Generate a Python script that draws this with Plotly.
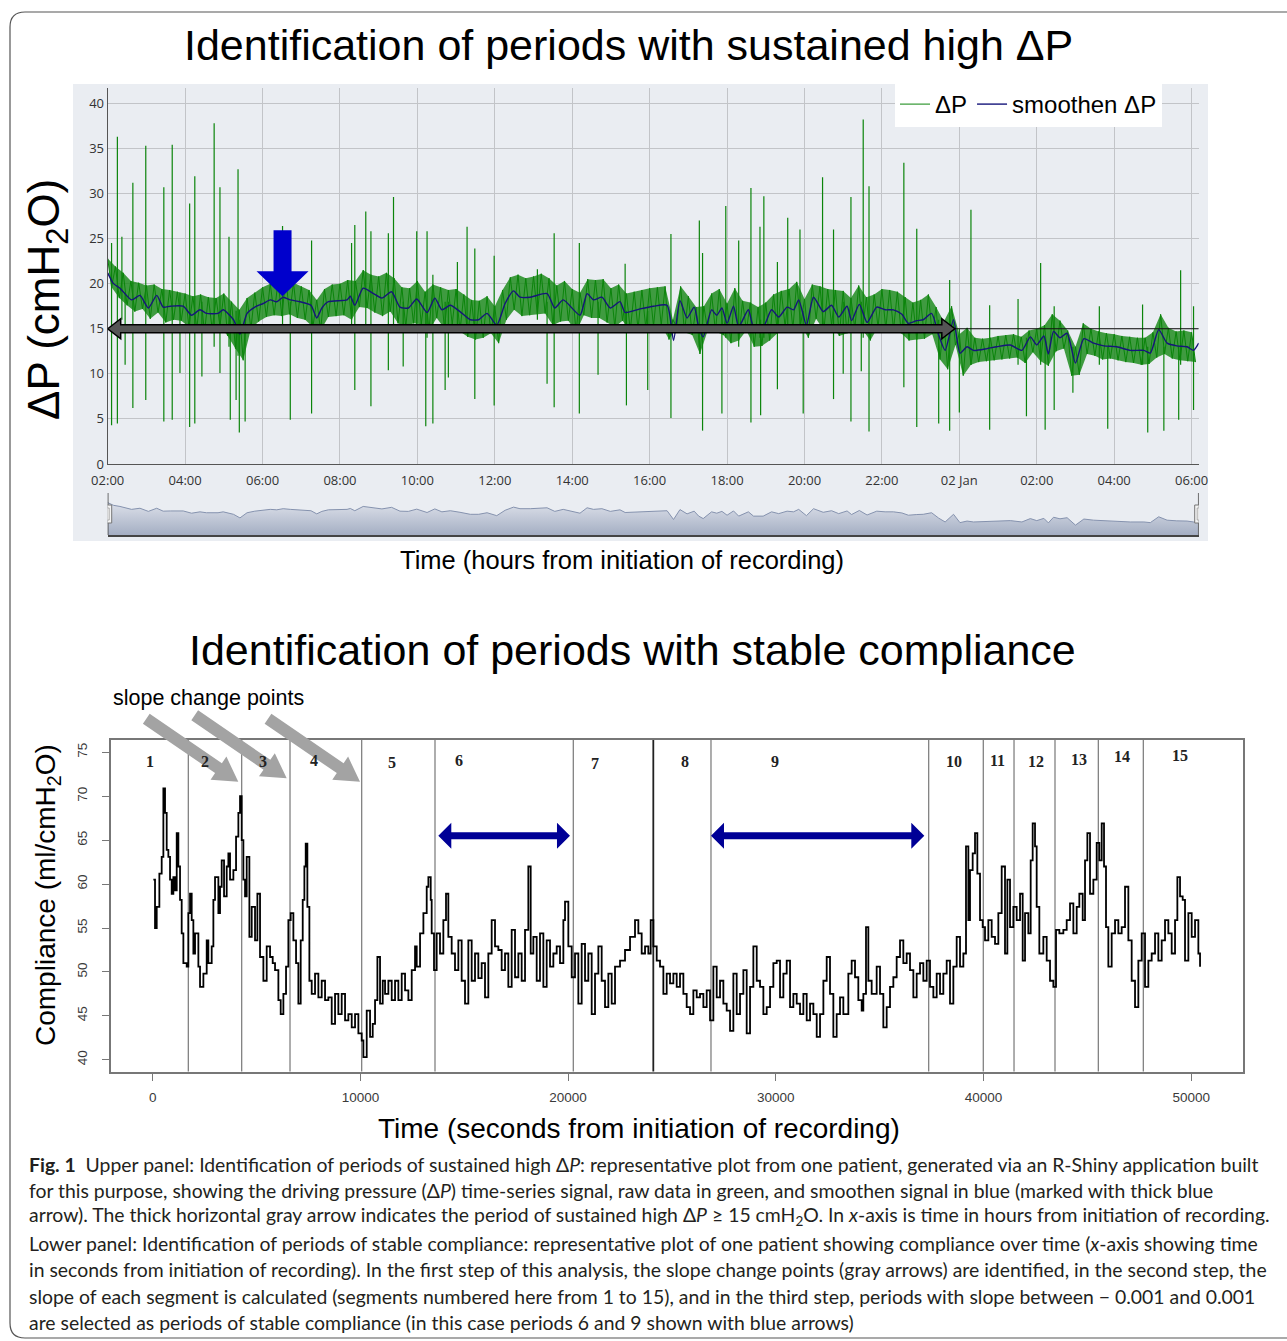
import numpy as np
import pandas as pd
import plotly.graph_objects as go

W, H = 1287, 1341

# ------------------------------------------------------------------ upper panel data
rec_start = "2020-01-01 02:00:00"
band_step_min = 6          # raw ΔP band sampled every 6 minutes from 02:00
dp_band = [
    22.8, 19.6, 21.9, 18.4, 21.2, 17.6, 20.3, 16.9, 20.1, 17.2,
    19.8, 16.1, 19.9, 16.8, 19.4, 15.7, 19.3, 16.0, 19.1, 15.9,
    18.9, 15.2, 18.6, 15.0, 18.8, 14.6, 18.5, 14.9, 18.4, 15.3,
    18.9, 14.2, 18.0, 12.8, 17.1, 11.5, 18.4, 15.0, 19.0, 15.8,
    19.6, 16.3, 20.0, 16.5, 20.3, 16.4, 20.6, 16.6, 20.1, 16.2,
    19.7, 16.0, 19.3, 15.2, 18.2, 14.8, 19.4, 16.3, 19.9, 16.4,
    20.0, 16.5, 20.4, 16.0, 20.3, 17.4, 21.5, 17.3, 21.0, 16.8,
    20.8, 16.4, 21.2, 16.9, 20.6, 15.6, 19.6, 15.2, 19.5, 15.6,
    20.3, 15.5, 19.1, 14.8, 19.9, 16.2, 19.6, 15.0, 19.3, 15.5,
    19.4, 14.7, 18.8, 14.1, 18.2, 13.8, 18.1, 14.0, 18.6, 14.5,
    17.5, 13.4, 19.3, 16.0, 20.7, 17.1, 21.0, 16.4, 20.6, 16.5,
    20.8, 16.6, 21.1, 16.7, 20.6, 15.4, 19.8, 15.8, 20.3, 15.9,
    19.4, 14.6, 19.0, 16.5, 20.5, 16.2, 20.4, 16.2, 20.5, 15.7,
    19.5, 15.2, 19.9, 15.9, 18.9, 14.8, 19.1, 15.0, 19.3, 15.1,
    19.5, 15.3, 19.6, 15.4, 19.7, 13.8, 16.0, 15.2, 19.7, 14.6,
    18.6, 14.3, 17.4, 12.2, 17.5, 14.8, 18.9, 14.7, 19.4, 14.3,
    17.8, 13.4, 19.5, 13.7, 18.1, 14.8, 17.9, 13.0, 17.4, 13.1,
    17.9, 13.7, 18.8, 14.5, 19.2, 15.2, 19.4, 15.0, 20.2, 15.4,
    18.3, 14.0, 19.9, 16.1, 19.7, 14.8, 19.4, 15.4, 19.3, 14.2,
    19.2, 14.5, 18.4, 15.0, 19.8, 14.9, 18.5, 13.7, 18.8, 15.2,
    19.4, 15.0, 19.3, 14.9, 19.1, 14.5, 18.5, 13.7, 17.9, 13.8,
    18.2, 13.9, 18.8, 14.4, 17.4, 11.6, 15.8, 10.5, 17.5, 13.2,
    14.4, 9.8, 15.1, 11.0, 14.0, 11.3, 13.9, 11.4, 14.0, 11.5,
    14.2, 11.6, 14.3, 11.7, 14.4, 11.8, 14.1, 11.2, 14.8, 12.4,
    15.0, 11.4, 15.4, 10.9, 16.6, 12.5, 15.9, 12.8, 14.8, 9.8,
    13.0, 9.9, 15.6, 12.2, 15.0, 12.0, 14.7, 11.6, 14.5, 11.7,
    14.4, 11.5, 14.2, 11.3, 14.1, 11.2, 14.0, 11.0, 14.0, 11.1,
    14.6, 11.8, 16.6, 12.2, 15.1, 11.7, 14.7, 11.5, 14.8, 11.4,
    14.6, 11.3,
]
# raw ΔP spikes: (minutes from 02:00, lowest value, highest value)
dp_spikes = [
    (6, 4.3, 24.5), (15, 4.5, 36.3), (22, 16, 25.2), (27, 11.0, 19), (39, 6.2, 31.2),
    (59, 7.1, 35.3), (87, 4.7, 30.7), (100, 4.9, 35.4), (112, 10.1, 19), (127, 4.1, 28.9),
    (135, 4.5, 31.9), (146, 9.7, 18), (165, 13, 37.8), (174, 10.1, 30.7), (188, 13, 25.2),
    (190, 4.9, 17), (199, 7.1, 17), (202, 12, 32.7), (204, 3.5, 16), (213, 4.7, 16),
    (271, 15, 26.4), (283, 4.9, 18), (316, 5.6, 24.8), (378, 15, 24.5), (383, 8.2, 26.5),
    (400, 15, 28.0), (408, 6.4, 25.8), (435, 10.4, 25.6), (443, 15, 29.6), (458, 10.8, 18),
    (479, 15, 25.8), (493, 4.2, 17), (495, 14, 25.8), (504, 4.5, 21.0), (523, 8.2, 18),
    (528, 9.6, 18), (542, 15, 22.4), (557, 15, 26.3), (569, 7.2, 23.9), (599, 6.5, 23.1),
    (666, 16, 21.6), (681, 8.9, 18), (692, 6.3, 25.6), (731, 5.6, 24.5), (760, 9.9, 18),
    (802, 15, 22.2), (804, 6.5, 17), (837, 8.2, 17), (873, 5.1, 25.5), (917, 13, 27.0),
    (922, 3.7, 23.4), (952, 5.6, 17), (958, 14, 28.6), (978, 13, 24.8), (997, 4.6, 30.6),
    (1011, 14, 26.3), (1012, 5.4, 16), (1017, 14, 29.7), (1038, 8.3, 22.4), (1054, 15, 27.3),
    (1073, 15, 26.0), (1078, 5.6, 17), (1108, 15, 31.8), (1125, 7.2, 26.0), (1140, 10.0, 18),
    (1152, 4.7, 29.6), (1168, 10.3, 18), (1171, 14, 38.2), (1180, 3.6, 30.8), (1234, 8.5, 33.4),
    (1254, 4.1, 26.1), (1288, 4.5, 16), (1305, 3.7, 20.4), (1320, 5.7, 15), (1338, 11, 28.2),
    (1367, 3.8, 17.6), (1411, 11, 18.3), (1424, 5.3, 14), (1446, 11, 22.3), (1453, 3.8, 14),
    (1467, 6.0, 17.5), (1496, 7.9, 13), (1537, 11, 17.5), (1550, 3.9, 13), (1604, 11, 17.7),
    (1612, 3.5, 13), (1637, 3.7, 13), (1660, 4.9, 13), (1663, 11, 21.5), (1683, 6.0, 17.5),
]
smooth_min = [
    0, 9, 19, 37, 50, 63, 76, 86, 97, 117, 130, 143, 153, 171, 179, 195, 205, 216, 228, 241,
    252, 262, 272, 283, 298, 315, 324, 332, 342, 371, 376, 383, 396, 412, 425, 440, 453, 466, 479, 495,
    507, 518, 531, 546, 562, 575, 588, 603, 616, 629, 639, 655, 681, 693, 706, 732, 743, 753, 766, 779,
    794, 802, 825, 846, 867, 877, 887, 898, 909, 916, 923, 936, 944, 952, 960, 970, 978, 993, 1001, 1016,
    1029, 1040, 1053, 1063, 1071, 1083, 1094, 1109, 1122, 1133, 1146, 1153, 1165, 1177, 1192, 1205, 1218, 1231, 1241, 1254,
    1264, 1277, 1288, 1298, 1311, 1321, 1332, 1342, 1363, 1378, 1399, 1417, 1430, 1440, 1451, 1458, 1466, 1476, 1487, 1500,
    1513, 1528, 1544, 1564, 1585, 1606, 1616, 1629, 1642, 1657, 1673, 1683, 1691,
]
smooth_val = [
    21.2, 20.0, 19.5, 18.2, 18.7, 17.3, 18.7, 17.4, 17.5, 17.5, 16.5, 17.1, 16.7, 16.7, 17.1, 16.0, 14.4, 16.7, 17.4, 17.8,
    18.2, 18.0, 18.5, 18.2, 18.0, 17.6, 16.2, 17.3, 18.0, 18.2, 18.6, 17.6, 19.5, 18.9, 18.4, 19.1, 17.4, 17.3, 18.3, 16.8,
    18.4, 17.1, 17.6, 16.9, 16.0, 16.0, 16.7, 15.4, 17.8, 19.2, 18.5, 18.5, 18.9, 17.3, 18.2, 16.5, 18.9, 18.2, 18.5, 17.3,
    18.0, 16.8, 17.2, 17.5, 17.6, 13.7, 18.1, 16.2, 17.4, 15.2, 14.1, 17.1, 16.5, 17.3, 15.6, 17.5, 15.2, 17.1, 15.2, 15.2,
    17.1, 16.3, 17.4, 17.1, 18.2, 15.4, 18.5, 16.9, 17.6, 16.3, 17.5, 15.9, 17.7, 15.7, 17.4, 17.1, 17.1, 16.6, 15.6, 15.9,
    16.0, 16.7, 14.3, 12.6, 16.0, 12.3, 13.0, 12.6, 12.8, 13.0, 13.2, 12.6, 14.1, 13.2, 14.2, 12.2, 14.7, 14.0, 14.5, 11.2,
    13.9, 13.4, 13.1, 13.0, 12.6, 12.6, 12.3, 14.9, 13.4, 13.1, 13.0, 12.6, 13.4,
]
x_end_min = 1691
upper_tick_min = [0, 120, 240, 360, 480, 600, 720, 840, 960, 1080, 1200, 1320, 1440, 1560, 1680]
upper_tick_text = ["02:00", "04:00", "06:00", "08:00", "10:00", "12:00", "14:00", "16:00",
                   "18:00", "20:00", "22:00", "02 Jan", "02:00", "04:00", "06:00"]
dp_yticks = [0, 5, 10, 15, 20, 25, 30, 35, 40]
dp_threshold = 15
sustained_start_min, sustained_end_min = 0, 1313
smooth_marker_min, smooth_marker_val = 271, 18.6

# ------------------------------------------------------------------ lower panel data
compliance = [
    (32, 60.5), (112, 55), (193, 57.4), (321, 61.2), (433, 63.1), (514, 70.9), (594, 68.1), (674, 63.9), (754, 63.1),
    (835, 60.5), (915, 58.9), (995, 60.8), (1075, 59.3), (1156, 65.8), (1236, 62), (1316, 58.2), (1396, 54.4),
    (1477, 51), (1637, 50.6), (1717, 56.7), (1798, 58.9), (1878, 55.9), (1958, 52.1), (2038, 54.4), (2199, 50.6),
    (2279, 48.3), (2440, 49.8), (2600, 53.6), (2680, 51), (2841, 52.9), (2921, 58.2), (3001, 60.8), (3162, 56.7),
    (3242, 59.7), (3322, 62.7), (3435, 58.6), (3563, 62), (3643, 63.5), (3724, 60.5), (3884, 61.6), (4013, 65.4),
    (4125, 68.1), (4205, 70), (4285, 65), (4366, 60.5), (4446, 58.6), (4526, 63.1), (4655, 54), (4767, 57.4),
    (4927, 53.6), (5040, 58.9), (5168, 51.7), (5329, 49), (5489, 52.9), (5650, 51.7), (5778, 51), (5890, 50.2),
    (6051, 46.8), (6163, 45.2), (6292, 47.5), (6420, 50.6), (6532, 55.9), (6645, 56.7), (6773, 53.6), (6902, 51),
    (7014, 46.4), (7126, 53.6), (7223, 58.2), (7303, 62), (7367, 64.6), (7447, 57.4), (7544, 49), (7656, 47.5),
    (7816, 49.8), (7977, 47.1), (8137, 49), (8298, 46.8), (8458, 47.1), (8619, 44.1), (8779, 47.5), (8940, 45.2),
    (9100, 47.5), (9261, 44.5), (9421, 45.2), (9582, 43.7), (9742, 45.2), (9903, 43), (10063, 42.2), (10144, 40.3),
    (10304, 45.6), (10465, 42.6), (10593, 44.1), (10705, 46.8), (10818, 51.7), (10946, 46.4), (11075, 49),
    (11187, 47.5), (11347, 49), (11508, 46.8), (11668, 49), (11829, 46.8), (11989, 49.8), (12150, 47.9),
    (12310, 46.8), (12471, 50.2), (12631, 52.9), (12712, 50.6), (12872, 54.4), (13033, 56.7), (13193, 59.7),
    (13273, 60.8), (13386, 58.2), (13432, 54.4), (13544, 50.2), (13673, 54.4),
    (13833, 52.1), (13994, 55.9), (14122, 58.9), (14234, 54), (14395, 52.1), (14555, 50.2), (14716, 53.6),
    (14876, 49), (15037, 46.4), (15197, 53.6), (15358, 49), (15518, 52.1), (15679, 49.3), (15839, 51), (16000, 47.1),
    (16160, 52.1), (16321, 55.9), (16481, 52.9), (16642, 52.5), (16802, 50.2), (16963, 52.1), (17123, 48.3),
    (17284, 54.8), (17444, 49.4), (17605, 52.1), (17765, 49), (17926, 54.8), (18086, 62), (18199, 52.1),
    (18327, 54), (18488, 49), (18648, 54.4), (18809, 48.3), (18969, 53.6), (19130, 50.6), (19290, 52.1),
    (19451, 52.9), (19611, 51), (19772, 55.9), (19852, 58), (20012, 52.9), (20173, 49.4), (20333, 52.1),
    (20494, 46.4), (20654, 53.2), (20815, 49), (20975, 52.1), (21136, 45.2), (21296, 49.8), (21457, 52.9),
    (21617, 49), (21778, 46), (21938, 49.8), (22099, 46.4), (22259, 50.6), (22500, 51.3), (22741, 52.5),
    (22982, 54), (23222, 55.9), (23383, 54.4), (23543, 52.1), (23704, 52.9), (23864, 52.1), (23977, 55.9),
    (24105, 52.9), (24266, 51.3), (24426, 50.6), (24587, 47.5), (24747, 49.8), (24908, 48.7), (25068, 49.8),
    (25229, 48.3), (25389, 49.8), (25550, 47.5), (25710, 46), (25871, 45.2), (26031, 47.9), (26192, 47.1),
    (26352, 47.5), (26513, 46), (26673, 47.9), (26834, 44.5), (26994, 50.6), (27155, 47.1), (27315, 49),
    (27476, 46.4), (27636, 45.6), (27797, 43.3), (27957, 49.8), (28118, 45.2), (28278, 47.5), (28439, 50.2),
    (28599, 43), (28760, 48.3), (28920, 52.9), (29081, 49), (29241, 48.3), (29402, 45.2), (29562, 46),
    (29723, 48.3), (29883, 51), (30044, 51.3), (30204, 47.1), (30365, 49.8), (30525, 51.3), (30686, 46),
    (30846, 47.5), (31007, 46.4), (31167, 45.2), (31328, 47.5), (31488, 44.5), (31649, 46.4), (31809, 45.2),
    (31970, 42.6), (32130, 45.2), (32291, 49), (32451, 51.7),
    (32610, 47.5), (32771, 42.6), (32931, 45.2), (33092, 47.1), (33252, 45.2), (33493, 49.8), (33653, 51.3),
    (33814, 49.4), (33974, 46.8), (34135, 45.6), (34215, 47.5), (34343, 55.1), (34456, 49), (34616, 47.5),
    (34857, 50.6), (35018, 47.5), (35178, 43.7), (35339, 46), (35499, 48.3), (35660, 49.4), (35820, 51.7),
    (35981, 53.6), (36141, 51), (36302, 52.1), (36462, 50.2), (36623, 47.1), (36783, 49.8), (36944, 51),
    (37104, 49), (37265, 51.3), (37425, 48.3), (37586, 47.1), (37746, 49.8), (37907, 47.5), (38067, 49.8),
    (38228, 51.3), (38388, 46.4), (38549, 50.6), (38709, 54), (38870, 50.6), (39030, 52.1), (39158, 64.3),
    (39271, 55.9), (39351, 61.6), (39479, 63.5), (39592, 65.8), (39704, 61.2), (39833, 55.9), (39961, 55.1),
    (40073, 53.6), (40234, 55.9), (40394, 54), (40555, 53.2), (40715, 56.7), (40876, 62), (41036, 52.1),
    (41149, 60.5), (41277, 55.1), (41438, 57.4), (41598, 55.9), (41759, 58.9), (41887, 51.3), (42000, 56.7),
    (42160, 54.4), (42272, 62.7), (42368, 66.9), (42481, 64.3), (42561, 57.4), (42689, 52.1), (42882, 54),
    (43043, 51.3), (43203, 49), (43364, 48.3), (43492, 54.8), (43652, 54.4), (43845, 54.8), (44006, 55.9),
    (44166, 57.8), (44327, 54.4), (44487, 57.4), (44615, 58.9), (44776, 55.9), (44888, 62.7), (45001, 65.8),
    (45129, 58.9), (45290, 60.5), (45450, 64.7), (45578, 62.7), (45691, 66.9), (45803, 62), (45899, 55.1),
    (46012, 50.6), (46172, 54.4), (46333, 55.9), (46493, 54.4), (46654, 55.1), (46814, 59.7), (46975, 53.6),
    (47135, 49), (47296, 46), (47456, 51.3), (47617, 54.4), (47777, 48.3), (47938, 51.3), (48098, 52.1),
    (48259, 54.4), (48419, 51.3), (48580, 53.6), (48740, 55.9), (48901, 54.4), (49061, 52.1), (49222, 55.9),
    (49334, 60.8), (49463, 58.6), (49591, 58.2), (49703, 51.3), (49864, 56.7), (50024, 54), (50185, 55.9),
    (50345, 52.1), (50426, 50.6),
]
seg_boundaries = [1714, 4285, 6611, 10063, 13592, 20250, 24103, 26880, 37362, 39990, 41470, 43443, 45528, 47694]
seg_labels = [str(i) for i in range(1, 16)]
seg_label_x = [-130, 2518, 5311, 7766, 11521, 14747, 21295, 25628, 29962, 38580, 40698, 42528, 44598, 46668, 49461]
seg_label_y = [73.9, 73.9, 73.9, 74.1, 73.8, 74.1, 73.7, 74.0, 74.0, 74.0, 74.1, 74.0, 74.2, 74.5, 74.6]
change_arrow_tip_x = [4121, 6452, 9981]
change_arrow_tip_y = [71.65, 72.04, 71.65]
stable_periods = [(13751, 20091), (26880, 37150)]
stable_arrow_y = 65.5
comp_xticks = [0, 10000, 20000, 30000, 40000, 50000]
comp_yticks = [40, 45, 50, 55, 60, 65, 70, 75]
comp_xrange = [-2022, 52480]
comp_yrange = [38.67, 76.4]

caption_lines = [
    "<b>Fig. 1</b>  Upper panel: Identification of periods of sustained high Δ<i>P</i>: representative plot from one patient, generated via an R-Shiny application built",
    "for this purpose, showing the driving pressure (Δ<i>P</i>) time-series signal, raw data in green, and smoothen signal in blue (marked with thick blue",
    "arrow). The thick horizontal gray arrow indicates the period of sustained high Δ<i>P</i> ≥ 15 cmH<sub>2</sub>O. In <i>x</i>-axis is time in hours from initiation of recording.",
    "Lower panel: Identification of periods of stable compliance: representative plot of one patient showing compliance over time (<i>x</i>-axis showing time",
    "in seconds from initiation of recording). In the first step of this analysis, the slope change points (gray arrows) are identified, in the second step, the",
    "slope of each segment is calculated (segments numbered here from 1 to 15), and in the third step, periods with slope between − 0.001 and 0.001",
    "are selected as periods of stable compliance (in this case periods 6 and 9 shown with blue arrows)",
]
caption_y_px = [1164, 1190, 1216, 1243, 1269, 1296, 1322]

# ------------------------------------------------------------------ layout geometry (pixels)
UX0, UX1, UY0, UY1 = 107.7, 1198.7, 88, 464       # upper plot area
NY0, NY1 = 497, 535                              # navigator
LX0, LX1, LY0, LY1 = 110.7, 1242.7, 740, 1071.5   # lower plot area
UPPER_YMAX = 41.7
NAV_YRANGE = [6.8, 23.7]


def px(x):
    return x / W


def py(y):
    return 1 - y / H


t0 = pd.Timestamp(rec_start)


def to_time(minutes):
    return t0 + pd.to_timedelta(np.asarray(minutes, dtype=float), unit="m")


band_min = np.arange(len(dp_band)) * band_step_min
band_t = to_time(band_min)
smooth_t = to_time(smooth_min)

spike_x, spike_y = [], []
for m, lo, hi in dp_spikes:
    t = t0 + pd.Timedelta(minutes=m)
    spike_x += [t, t, None]
    spike_y += [lo, hi, None]

comp_sec = [p[0] for p in compliance]
comp_val = [p[1] for p in compliance]

GREEN = "#0b840b"
NAVY = "#15157a"

fig = go.Figure()
# dense raw band: the area between the low and high samples
fig.add_trace(go.Scatter(x=band_t[1::2], y=dp_band[1::2], mode="lines", showlegend=False,
                         line=dict(width=0, color=GREEN), hoverinfo="skip", xaxis="x", yaxis="y"))
fig.add_trace(go.Scatter(x=band_t[0::2], y=dp_band[0::2], mode="lines", showlegend=False,
                         line=dict(width=0, color=GREEN), fill="tonexty",
                         fillcolor="rgba(14,132,14,0.78)", hoverinfo="skip", xaxis="x", yaxis="y"))
fig.add_trace(go.Scatter(x=band_t, y=dp_band, mode="lines", name="ΔP",
                         line=dict(color=GREEN, width=1), xaxis="x", yaxis="y"))
fig.add_trace(go.Scatter(x=spike_x, y=spike_y, mode="lines", showlegend=False,
                         line=dict(color=GREEN, width=1.2), xaxis="x", yaxis="y"))
fig.add_trace(go.Scatter(x=smooth_t, y=smooth_val, mode="lines", name="smoothen ΔP",
                         line=dict(color=NAVY, width=1.4, shape="spline", smoothing=0.6),
                         xaxis="x", yaxis="y"))
# navigator (range selector) miniature
fig.add_trace(go.Scatter(x=smooth_t, y=smooth_val, mode="lines", showlegend=False,
                         line=dict(color="#8592ae", width=1), fill="tozeroy",
                         fillgradient=dict(type="vertical", start=NAV_YRANGE[0], stop=NAV_YRANGE[1],
                                           colorscale=[[0, "#a4aec3"], [1, "#e6e9f0"]]),
                         xaxis="x2", yaxis="y2"))
# compliance series
fig.add_trace(go.Scatter(x=comp_sec, y=comp_val, mode="lines", showlegend=False,
                         line=dict(color="black", width=1.8, shape="hv"),
                         xaxis="x3", yaxis="y3"))

x_range_t = [t0, t0 + pd.Timedelta(minutes=x_end_min)]
tick_font = dict(family="Open Sans, sans-serif", size=13, color="#333")
low_tick_font = dict(family="Liberation Sans, Arial", size=13.5, color="#3a3a3a")

fig.update_layout(
    width=W, height=H, margin=dict(l=0, r=0, t=0, b=0, autoexpand=False),
    paper_bgcolor="white", plot_bgcolor="rgba(0,0,0,0)",
    font=dict(family="Liberation Sans, Arial, sans-serif", color="black"),
    xaxis=dict(domain=[px(UX0), px(UX1)], anchor="y", type="date", range=x_range_t,
               tickvals=list(to_time(upper_tick_min)), ticktext=upper_tick_text,
               showgrid=True, gridcolor="#c2c4c8", gridwidth=1, zeroline=False,
               showline=True, linecolor="#555", linewidth=1.2, ticks="",
               tickfont=tick_font, ticklabelstandoff=4, automargin=False),
    yaxis=dict(domain=[py(UY1), py(UY0)], anchor="x", range=[0, UPPER_YMAX],
               tickvals=dp_yticks, showgrid=True, gridcolor="#c2c4c8", gridwidth=1,
               zeroline=False, showline=True, linecolor="#555", linewidth=1.2, ticks="",
               tickfont=tick_font, automargin=False),
    xaxis2=dict(domain=[px(UX0), px(UX1)], anchor="y2", type="date", range=x_range_t,
                showticklabels=False, showgrid=False, zeroline=False,
                showline=True, linecolor="#444", linewidth=1.5, ticks="", automargin=False),
    yaxis2=dict(domain=[py(NY1), py(NY0)], anchor="x2", range=NAV_YRANGE, visible=False),
    xaxis3=dict(domain=[px(LX0), px(LX1)], anchor="y3", range=comp_xrange, tickvals=comp_xticks,
                tickformat="d", showgrid=False, zeroline=False, showline=True, mirror=True,
                linecolor="#777", linewidth=1.5, ticks="outside", ticklen=8, tickcolor="#777",
                tickwidth=1.2, tickfont=low_tick_font, ticklabelstandoff=5, automargin=False),
    yaxis3=dict(domain=[py(LY1), py(LY0)], anchor="x3", range=comp_yrange, tickvals=comp_yticks,
                showgrid=False, zeroline=False, showline=True, mirror=True,
                linecolor="#777", linewidth=1.5, ticks="outside", ticklen=7, tickcolor="#777",
                tickwidth=1.2, tickangle=-90, tickfont=low_tick_font,
                ticklabelstandoff=10, automargin=False),
    legend=dict(orientation="h", x=px(895), y=py(82), xanchor="left", yanchor="top",
                bgcolor="white", font=dict(family="Liberation Sans, Arial", size=24, color="black"),
                itemwidth=30, tracegroupgap=0, traceorder="normal"),
)

# ------------------------------------------------------------------ shapes
shapes = []
r = 15
path = f"M{px(1300)},{py(12)} L{px(10 + r)},{py(12)} Q{px(10)},{py(12)} {px(10)},{py(12 + r)} " \
       f"L{px(10)},{py(1338 - r)} Q{px(10)},{py(1338)} {px(10 + r)},{py(1338)} L{px(1300)},{py(1338)}"
shapes.append(dict(type="path", xref="paper", yref="paper", path=path,
                   line=dict(color="#555", width=1.2), layer="below"))
shapes.append(dict(type="rect", xref="paper", yref="paper", x0=px(73), x1=px(1208),
                   y0=py(541), y1=py(84), fillcolor="#eaedf2", line=dict(width=0), layer="below"))


def poly(pts):
    return "M " + " L ".join(f"{x:.2f},{y:.2f}" for x, y in pts) + " Z"


def double_arrow(L, head_len, head_half, shaft_half):
    return poly([(0, 0), (head_len, head_half), (head_len, shaft_half), (L - head_len, shaft_half),
                 (L - head_len, head_half), (L, 0), (L - head_len, -head_half),
                 (L - head_len, -shaft_half), (head_len, -shaft_half), (head_len, -head_half)])


upper_px_per_min = (UX1 - UX0) / x_end_min
lower_px_per_sec = (LX1 - LX0) / (comp_xrange[1] - comp_xrange[0])
lower_px_per_unit = (LY1 - LY0) / (comp_yrange[1] - comp_yrange[0])

shapes.append(dict(type="line", xref="x", yref="y", x0=x_range_t[0], x1=x_range_t[1],
                   y0=dp_threshold, y1=dp_threshold, line=dict(color="#111", width=1.2), layer="above"))
L_sus = (sustained_end_min - sustained_start_min) * upper_px_per_min
shapes.append(dict(type="path", xref="x", yref="y", xsizemode="pixel", ysizemode="pixel",
                   xanchor=str(t0 + pd.Timedelta(minutes=sustained_start_min)), yanchor=dp_threshold,
                   path=double_arrow(L_sus, 13, 10, 4), fillcolor="#555555",
                   line=dict(color="black", width=1.5), layer="above"))
shapes.append(dict(type="path", xref="x", yref="y", xsizemode="pixel", ysizemode="pixel",
                   xanchor=str(t0 + pd.Timedelta(minutes=smooth_marker_min)), yanchor=smooth_marker_val,
                   path=poly([(0, 0), (-26, 25), (-9, 25), (-9, 66), (9, 66), (9, 25), (26, 25)]),
                   fillcolor="#0000cc", line=dict(width=0), layer="above"))

for t in x_range_t:
    shapes.append(dict(type="line", xref="x2", yref="paper", x0=t, x1=t, y0=py(NY1), y1=py(493),
                       line=dict(color="#444", width=1.5), layer="above"))
    shapes.append(dict(type="rect", xref="x2", yref="paper", xsizemode="pixel", xanchor=t,
                       x0=-4, x1=4, y0=py(523), y1=py(505), fillcolor="#f3f3f3",
                       line=dict(color="#777", width=1), layer="above"))
    shapes.append(dict(type="rect", xref="x2", yref="paper", xsizemode="pixel", xanchor=t,
                       x0=-1.5, x1=1.5, y0=py(520), y1=py(508), fillcolor="#f3f3f3",
                       line=dict(color="#999", width=0.8), layer="above"))

for i, b in enumerate(seg_boundaries):
    strong = (i == 6)
    shapes.append(dict(type="line", xref="x3", yref="y3 domain", x0=b, x1=b, y0=0, y1=1,
                       line=dict(color="#222" if strong else "#777", width=1.8 if strong else 1.2),
                       layer="below"))

# gray arrows at slope-change points (paper-anchored so the tails may leave the plot box)
dx, dy = 92.0, -63.0
Lg = np.hypot(dx, dy)
ux, uy = dx / Lg, dy / Lg
nx, ny = -uy, ux
hl, hh, sh = 24, 14, 6
for tx, ty in zip(change_arrow_tip_x, change_arrow_tip_y):
    ax_px = LX0 + (tx - comp_xrange[0]) * lower_px_per_sec
    ay_px = LY1 - (ty - comp_yrange[0]) * lower_px_per_unit
    bx, by = -ux * hl, -uy * hl
    tlx, tly = -ux * Lg, -uy * Lg
    pts = [(0, 0), (bx + nx * hh, by + ny * hh), (bx + nx * sh, by + ny * sh),
           (tlx + nx * sh, tly + ny * sh), (tlx - nx * sh, tly - ny * sh),
           (bx - nx * sh, by - ny * sh), (bx - nx * hh, by - ny * hh)]
    shapes.append(dict(type="path", xref="paper", yref="paper", xsizemode="pixel", ysizemode="pixel",
                       xanchor=px(ax_px), yanchor=py(ay_px), path=poly(pts), fillcolor="#a3a3a3",
                       line=dict(width=0), layer="above"))
for s0, s1 in stable_periods:
    L = (s1 - s0) * lower_px_per_sec
    shapes.append(dict(type="path", xref="x3", yref="y3", xsizemode="pixel", ysizemode="pixel",
                       xanchor=s0, yanchor=stable_arrow_y, path=double_arrow(L, 13, 13, 3.5),
                       fillcolor="#000096", line=dict(width=0), layer="above"))

fig.update_layout(shapes=shapes)

# ------------------------------------------------------------------ annotations
ann = []


def text(t, x, y, size, **kw):
    d = dict(text=t, xref="paper", yref="paper", x=px(x), y=py(y), showarrow=False,
             xanchor="center", yanchor="middle",
             font=dict(family="Liberation Sans, Arial, sans-serif", size=size, color="black"))
    d.update(kw)
    return d


ann.append(text("Identification of periods with sustained high ΔP", 628, 45, 43))
ann.append(text("ΔP (cmH<sub>2</sub>O)", 47, 300, 44, textangle=-90))
ann.append(text("Time (hours from initiation of recording)", 622, 560, 25.5))
ann.append(text("Identification of periods with stable compliance", 632, 650, 43))
ann.append(text("slope change points", 208, 698, 21.5))
ann.append(text("Compliance (ml/cmH<sub>2</sub>O)", 47, 895, 28, textangle=-90))
ann.append(text("Time (seconds from initiation of recording)", 639, 1128, 28))

for lab, sx, sy in zip(seg_labels, seg_label_x, seg_label_y):
    ann.append(dict(text=f"<b>{lab}</b>", xref="x3", yref="y3", x=sx, y=sy, showarrow=False,
                    xanchor="center", yanchor="middle",
                    font=dict(family="Liberation Serif, DejaVu Serif, serif", size=16, color="#222")))

for line, yc in zip(caption_lines, caption_y_px):
    ann.append(dict(text=line, xref="paper", yref="paper", x=px(27), y=py(yc), showarrow=False,
                    xanchor="left", yanchor="middle", align="left",
                    font=dict(family="Lato, Open Sans, sans-serif", size=19.4, color="#231f20")))

fig.update_layout(annotations=ann)

fig.write_html("out.html", config={"displayModeBar": False},
               post_script="document.body.style.margin='0px';")
